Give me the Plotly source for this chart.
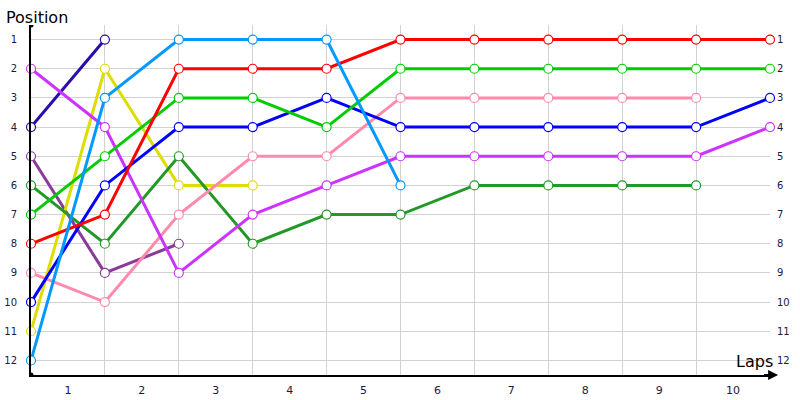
import plotly.graph_objects as go

laps_x = list(range(11))
lap_labels = ["1", "2", "3", "4", "5", "6", "7", "8", "9", "10"]
positions = list(range(1, 13))

navy = [4, 1, None, None, None, None, None, None, None, None, None]
purple = [5, 9, 8, None, None, None, None, None, None, None, None]
yellow = [11, 2, 6, 6, None, None, None, None, None, None, None]
dark_green = [6, 8, 5, 8, 7, 7, 6, 6, 6, 6, None]
pink = [9, 10, 7, 5, 5, 3, 3, 3, 3, 3, None]
violet = [2, 4, 9, 7, 6, 5, 5, 5, 5, 5, 4]
blue = [10, 6, 4, 4, 3, 4, 4, 4, 4, 4, 3]
green = [7, 5, 3, 3, 4, 2, 2, 2, 2, 2, 2]
red = [8, 7, 2, 2, 2, 1, 1, 1, 1, 1, 1]
light_blue = [12, 3, 1, 1, 1, 6, None, None, None, None, None]

series = [
    ("Navy", navy, "#2a0caa"),
    ("Purple", purple, "#8b3a9b"),
    ("Yellow", yellow, "#dddd00"),
    ("Dark green", dark_green, "#229926"),
    ("Pink", pink, "#ff8aac"),
    ("Violet", violet, "#cc33ff"),
    ("Blue", blue, "#0000ff"),
    ("Green", green, "#00cc00"),
    ("Red", red, "#ff0000"),
    ("Light blue", light_blue, "#0099ff"),
]

fig = go.Figure()
for name, vals, col in series:
    fig.add_trace(go.Scatter(
        x=laps_x, y=vals, name=name, mode="lines+markers",
        line=dict(color=col, width=3),
        marker=dict(size=9, color="white", line=dict(color=col, width=1.2)),
        cliponaxis=False, connectgaps=False, showlegend=False,
    ))

# invisible trace to activate right axis
fig.add_trace(go.Scatter(x=[0], y=[1], yaxis="y2", mode="markers",
                         marker=dict(opacity=0), showlegend=False, hoverinfo="skip"))

tick_font = dict(family="DejaVu Sans", size=10, color="#1a1a40")

fig.update_layout(
    width=800, height=400,
    margin=dict(l=31, r=30, t=25, b=25),
    paper_bgcolor="white", plot_bgcolor="white",
    xaxis=dict(
        range=[0, 10], tickvals=[i + 0.5 for i in range(10)], ticktext=lap_labels,
        showgrid=False, zeroline=False, ticks="", automargin=False,
        showline=True, linecolor="black", linewidth=2,
        tickfont=dict(family="DejaVu Sans", size=11, color="#1a1a40"),
        ticklabelstandoff=4,
        minor=dict(tick0=0, dtick=1, showgrid=True, gridcolor="#d2d2d2", gridwidth=1, ticks=""),
    ),
    yaxis=dict(
        range=[12.5, 0.5], tickvals=positions, ticktext=[str(p) for p in positions],
        showgrid=True, gridcolor="#d2d2d2", gridwidth=1, zeroline=False, ticks="",
        showline=True, linecolor="black", linewidth=2, automargin=False,
        tickfont=tick_font, ticklabelstandoff=10,
    ),
    yaxis2=dict(
        range=[12.5, 0.5], tickvals=positions, ticktext=[str(p) for p in positions],
        overlaying="y", side="right", showgrid=False, zeroline=False, ticks="",
        showline=False, tickfont=tick_font, ticklabelstandoff=6, automargin=False,
    ),
    annotations=[
        dict(text="Position", xref="paper", yref="paper", x=-0.037, y=0.99,
             xanchor="left", yanchor="bottom", showarrow=False,
             font=dict(family="DejaVu Sans", size=16, color="black")),
        dict(text="Laps", xref="paper", yref="paper", x=1.007, y=0.005,
             xanchor="right", yanchor="bottom", showarrow=False,
             font=dict(family="DejaVu Sans", size=16, color="black")),
        dict(text="", x=10.11, y=12.5, xref="x", yref="y", axref="x", ayref="y",
             ax=9.9, ay=12.5, showarrow=True, arrowhead=2, arrowsize=1.0,
             arrowwidth=2, arrowcolor="black"),
    ],
    shapes=[
        dict(type="circle", xref="x", yref="y", xsizemode="pixel", ysizemode="pixel",
             xanchor=0, yanchor=0.5, x0=-2.5, x1=2.5, y0=-2.5, y1=2.5,
             fillcolor="black", line=dict(width=0)),
        dict(type="circle", xref="x", yref="y", xsizemode="pixel", ysizemode="pixel",
             xanchor=0, yanchor=12.5, x0=-2.5, x1=2.5, y0=-2.5, y1=2.5,
             fillcolor="black", line=dict(width=0)),
    ],
)

fig.write_html("out.html", config={"displayModeBar": False},
               post_script="document.body.style.margin='0';document.body.style.overflow='hidden';")
